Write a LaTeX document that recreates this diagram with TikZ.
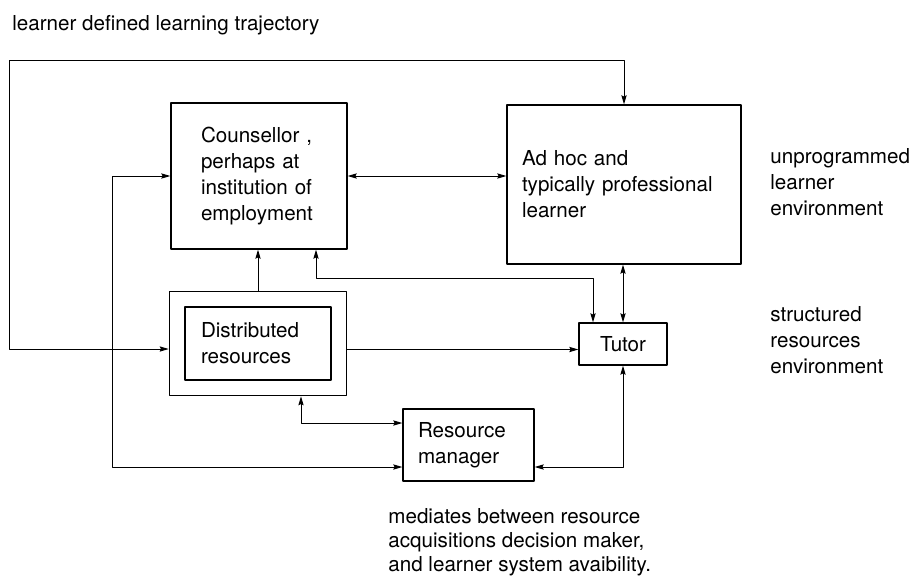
\documentclass[tikz,border=0pt]{standalone}
\usepackage{fontspec}
\setmainfont{TeX Gyre Heros}
\usetikzlibrary{arrows.meta,fit}
\begin{document}
\begin{tikzpicture}[x=0.5pt,y=-0.5pt,font=\fontsize{10.3}{13}\selectfont,line join=round,>={Stealth[length=4.5pt,width=2.6pt,inset=0.6pt]}]
	\tikzset{box/.style={draw,line width=0.65pt,align=left,inner ysep=0pt},
		link/.style={line width=0.5pt},
		label text/.style={anchor=base west,align=left,inner sep=0pt}}
	\useasboundingbox (0,0) rectangle (914,579);
	\node[box,inner xsep=15pt,text width=58pt,minimum height=73pt] (counsellor) at (259,176) {Counsellor ,\\perhaps at\\institution of\\employment};
	\node[box,inner xsep=7.5pt,text width=102pt,minimum height=79.5pt] (adhoc) at (624,184.5) {Ad hoc and\\typically professional\\learner};
	\node[box,inner xsep=8pt,text width=57pt,minimum height=36.5pt] (distr) at (258,343.5) {Distributed\\resources};
	\node[draw,line width=0.65pt,fit=(distr),inner sep=7.5pt] (distrbox) {};
	\node[box,minimum width=44pt,minimum height=21pt] (tutor) at (623,344) {Tutor};
	\node[box,inner xsep=7.5pt,text width=50.5pt,minimum height=36pt] (rm) at (468.5,445) {Resource\\manager};
	\node[label text] (trajectory) at (12,30) {learner defined learning trajectory};
	\node[label text] (unprog) at (770,215) {unprogrammed\\learner\\environment};
	\node[label text] (structured) at (770,373) {structured\\resources\\environment};
	\node[label text,font=\fontsize{10.3}{11.8}\selectfont] (mediates) at (388,571) {mediates between resource\\acquisitions decision maker,\\and learner system avaibility.};
	\coordinate (tl) at (9,60);
	\coordinate (ml) at (112,467);
	\coordinate (kc) at (316,278);
	\coordinate (kt) at (593,278);
	\draw[link,<->] ([yshift=-2.75pt]distrbox.west) -| (tl) -| (adhoc.north);
	\draw[link,<->] (counsellor.east) -- (counsellor.east -| adhoc.west);
	\draw[link,<->] (counsellor.west) -| (ml) -- (ml -| rm.west);
	\draw[link,->] (distrbox.north) -- (distrbox.north |- counsellor.south);
	\draw[link,<->] (kc |- counsellor.south) -- (kc) -- (kt) -- (kt |- tutor.north);
	\draw[link,->] ([yshift=-3pt]distrbox.east) -- ([yshift=-3pt]distrbox.east -| tutor.west);
	\draw[link,<->] (adhoc.south -| tutor.north) -- (tutor.north);
	\draw[link,<->] ([xshift=21.5pt]distrbox.south) |- ([yshift=11pt]rm.west);
	\draw[link,<->] (tutor.south) |- ([yshift=-11pt]rm.east);
\end{tikzpicture}
\end{document}
